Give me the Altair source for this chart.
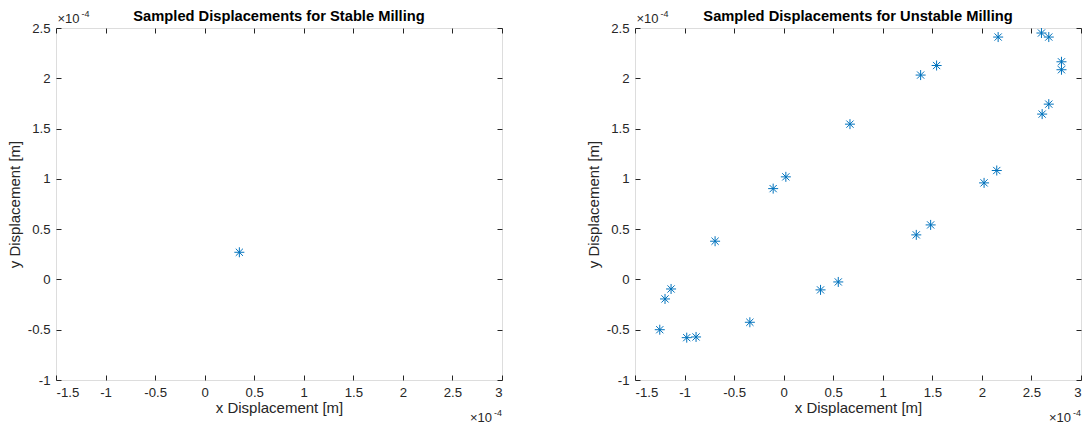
import altair as alt
import pandas as pd

# Values in units of 1e-4 m
stable_x = [0.35]
stable_y = [0.27]

unstable_x = [2.164, 2.601, 2.675, 2.803, 2.803, 2.675, 2.608, 2.150, 2.022,
              1.543, 1.382, 0.669, 0.022, -0.106, 1.483, 1.338, -0.692, 0.551,
              0.372, -1.136, -1.197, -1.250, -0.341, -0.978, -0.884]
unstable_y = [2.410, 2.450, 2.410, 2.164, 2.085, 1.743, 1.644, 1.083, 0.960,
              2.127, 2.032, 1.544, 1.020, 0.903, 0.542, 0.443, 0.380, -0.025,
              -0.104, -0.095, -0.194, -0.500, -0.426, -0.579, -0.572]

x_ticks = [-1.5, -1, -0.5, 0, 0.5, 1, 1.5, 2, 2.5, 3]
y_ticks = [-1, -0.5, 0, 0.5, 1, 1.5, 2, 2.5]
x_domain = [-1.5, 3]
y_domain = [-1, 2.5]

titles = ["Sampled Displacements for Stable Milling",
          "Sampled Displacements for Unstable Milling"]

W, H = 446, 352
FONT = "Liberation Sans"
TXT = "#262626"
BLUE = "#0072BD"
STAR = ("M-1,0L1,0M0,-1L0,1M-0.72,-0.72L0.72,0.72M-0.72,0.72L0.72,-0.72")


def panel(xs, ys, title):
    df = pd.DataFrame({"x": xs, "y": ys})
    base = alt.Chart(df)
    xsc = alt.Scale(domain=x_domain, nice=False, zero=False)
    ysc = alt.Scale(domain=y_domain, nice=False, zero=False)
    common = dict(grid=False, domain=False, tickSize=5, offset=-5,
                  tickColor=TXT, tickWidth=1, labelColor=TXT,
                  labelFont=FONT, labelFontSize=13.2, titleFont=FONT,
                  titleFontSize=15, titleColor=TXT, titleFontWeight="normal")
    pts = base.mark_point(shape=STAR, size=100, filled=False, color=BLUE,
                          strokeWidth=1, opacity=1).encode(
        x=alt.X("x:Q", scale=xsc, axis=alt.Axis(
            orient="bottom", values=x_ticks, labelPadding=6,
            labelExpr="'' + datum.value",
            title="x Displacement [m]", titlePadding=2, **common)),
        y=alt.Y("y:Q", scale=ysc, axis=alt.Axis(
            orient="left", values=y_ticks, labelPadding=6,
            labelExpr="'' + datum.value",
            title="y Displacement [m]", titlePadding=5, **common)),
    )
    frame = base.mark_point(opacity=0).encode(
        x=alt.X("x:Q", scale=xsc, axis=alt.Axis(
            orient="top", values=x_ticks, labels=False, title=None, **common)),
        y=alt.Y("y:Q", scale=ysc, axis=alt.Axis(
            orient="right", values=y_ticks, labels=False, title=None, **common)),
    )
    ttl = alt.Chart(pd.DataFrame({"t": [title]})).mark_text(
        font=FONT, fontSize=14.7, fontWeight="bold", color="#000000",
        align="center", baseline="alphabetic").encode(
        text="t:N", x=alt.value(W / 2), y=alt.value(-7))
    mult = alt.Chart(pd.DataFrame({"t": ["×10"]}))
    sup = alt.Chart(pd.DataFrame({"t": ["-4"]}))
    t1 = mult.mark_text(font=FONT, fontSize=13, color=TXT, align="left",
                        baseline="alphabetic").encode(
        text="t:N", x=alt.value(1.5), y=alt.value(-5))
    t2 = sup.mark_text(font=FONT, fontSize=9, color=TXT, align="left",
                       baseline="alphabetic").encode(
        text="t:N", x=alt.value(25.5), y=alt.value(-11))
    t3 = mult.mark_text(font=FONT, fontSize=13, color=TXT, align="right",
                        baseline="alphabetic").encode(
        text="t:N", x=alt.value(W - 10), y=alt.value(H + 42))
    t4 = sup.mark_text(font=FONT, fontSize=9, color=TXT, align="right",
                       baseline="alphabetic").encode(
        text="t:N", x=alt.value(W), y=alt.value(H + 36))
    return alt.layer(pts, frame, ttl, t1, t2, t3, t4).resolve_axis(
        x="independent", y="independent").properties(width=W, height=H)


left = panel(stable_x, stable_y, titles[0])
right = panel(unstable_x, unstable_y, titles[1])

chart = alt.hconcat(left, right, spacing=82).properties(
    padding={"left": 6, "top": 8, "right": 0, "bottom": 0}
).configure_view(stroke=TXT, strokeWidth=1).configure(font=FONT)

chart.save("out.html", embed_options={"renderer": "svg", "actions": False})
